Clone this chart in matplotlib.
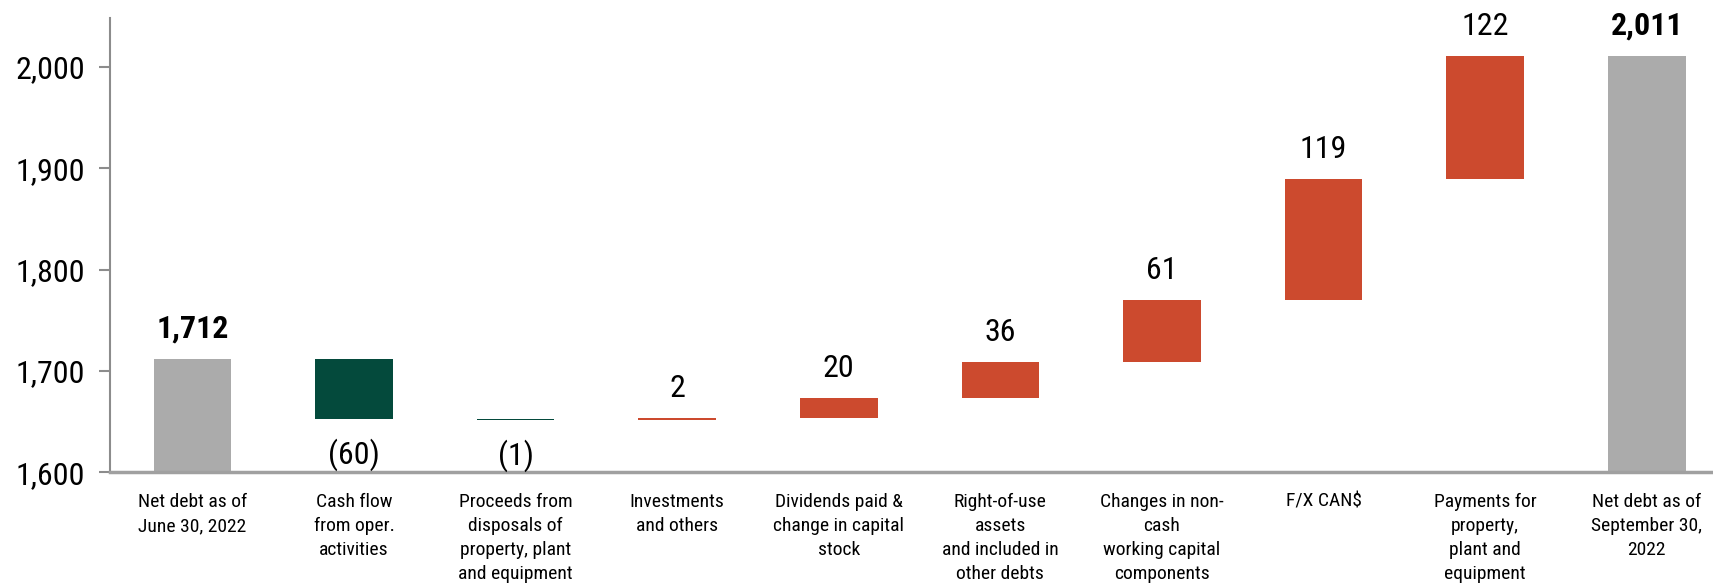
import numpy as np
import matplotlib.pyplot as plt

plt.rcParams['font.family'] = ['Roboto Condensed', 'DejaVu Sans']

categories = [
    "Net debt as of\nJune 30, 2022",
    "Cash flow\nfrom oper.\nactivities",
    "Proceeds from\ndisposals of\nproperty, plant\nand equipment",
    "Investments\nand others",
    "Dividends paid &\nchange in capital\nstock",
    "Right-of-use\nassets\nand included in\nother debts",
    "Changes in non-\ncash\nworking capital\ncomponents",
    "F/X CAN$",
    "Payments for\nproperty,\nplant and\nequipment",
    "Net debt as of\nSeptember 30,\n2022",
]
start_value = 1712
changes = [-60, -1, 2, 20, 36, 61, 119, 122]
end_value = 2011
yticks = [1600, 1700, 1800, 1900, 2000]

GREY = "#ABABAB"
GREEN = "#044A3C"
RED = "#CC4A2E"

fig = plt.figure(figsize=(17.13, 5.88), dpi=100)
ax = fig.add_axes([0.0642, 0.197, 0.9358, 0.772])

x = np.arange(len(categories))
width = 0.48

# totals at both ends
ax.bar(x[0], start_value - 1600, bottom=1600, width=width, color=GREY)
ax.bar(x[-1], end_value - 1600, bottom=1600, width=width, color=GREY)
ax.text(x[0], start_value + 15, f"{start_value:,}", ha="center", va="bottom",
        fontsize=23, fontweight="bold")
ax.text(x[-1], end_value + 15, f"{end_value:,}", ha="center", va="bottom",
        fontsize=23, fontweight="bold")

# floating steps
level = start_value
for i, d in enumerate(changes, start=1):
    lo, hi = sorted([level, level + d])
    h = hi - lo
    ax.bar(x[i], h if h > 1 else 1.2, bottom=lo, width=width,
           color=GREEN if d < 0 else RED)
    if d < 0:
        ax.text(x[i], lo - 19, f"({abs(d)})", ha="center", va="top", fontsize=23)
    else:
        ax.text(x[i], hi + 15, f"{d}", ha="center", va="bottom", fontsize=23)
    level += d

ax.set_xlim(-0.51, 9.41)
ax.set_ylim(1600, 2048)
ax.set_yticks(yticks)
ax.set_yticklabels([f"{v:,}" for v in yticks], fontsize=23)
ax.set_xticks(x)
ax.set_xticklabels(categories, fontsize=14, linespacing=1.42, va="top")
ax.tick_params(axis="x", length=0, pad=15)
ax.tick_params(axis="y", length=8, width=1.5, color="#8C8C8C", pad=10)

for side in ("top", "right"):
    ax.spines[side].set_visible(False)
ax.spines["left"].set_color("#8C8C8C")
ax.spines["left"].set_linewidth(1.5)
ax.spines["bottom"].set_color("#A0A0A0")
ax.spines["bottom"].set_linewidth(2.5)

fig.savefig("out.png", dpi=100)
